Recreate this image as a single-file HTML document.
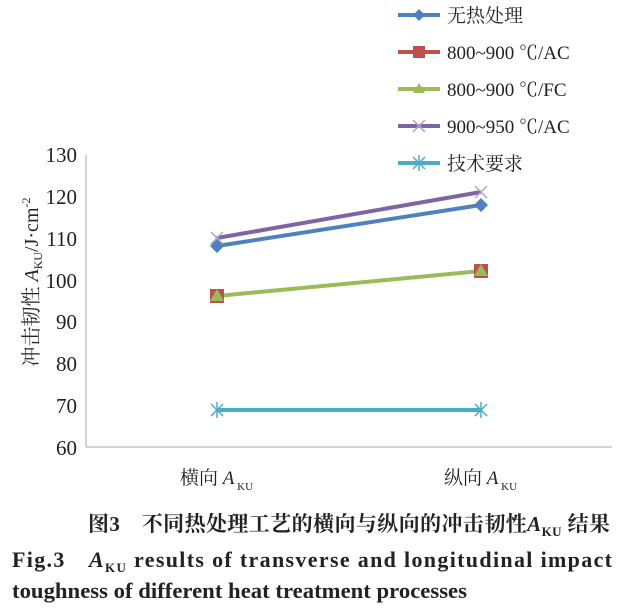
<!DOCTYPE html>
<html><head><meta charset="utf-8"><style>
body{margin:0;background:#fff;}
svg{display:block;}
.t{font-family:"Liberation Serif","Noto Serif CJK SC",serif;fill:#222;}
</style></head><body>
<svg width="621" height="612" viewBox="0 0 621 612">
<g class="t" font-size="21" text-anchor="end">
<text x="77" y="162">130</text><text x="77" y="204">120</text><text x="77" y="246">110</text>
<text x="77" y="288">100</text><text x="77" y="329">90</text><text x="77" y="371">80</text>
<text x="77" y="413">70</text><text x="77" y="455">60</text>
</g>
<line x1="86" y1="155" x2="86" y2="447" stroke="#aaa" stroke-width="1"/>
<line x1="86" y1="447" x2="612" y2="447" stroke="#aaa" stroke-width="1"/>
<g class="t" transform="translate(38,282) rotate(-90)" text-anchor="middle" font-size="20">
<text x="0" y="0">冲击韧性 <tspan font-style="italic">A</tspan><tspan font-size="12" dy="4">KU</tspan><tspan dy="-4">/J·cm</tspan><tspan font-size="12" dy="-8">-2</tspan></text>
</g>
<g stroke-width="4" fill="none">
<polyline points="217,410 481,410" stroke="#4bacc6"/>
<polyline points="217,296 481,271" stroke="#9bbb59"/>
<polyline points="217,238 481,192" stroke="#8064a2"/>
<polyline points="217,246 481,205" stroke="#4f81bd"/>
</g>
<g stroke="#4bacc6" stroke-width="1.5"><path d="M211,404l12,12M223,404l-12,12M217,402v16M475,404l12,12M487,404l-12,12M481,402v16"/></g>
<rect x="210" y="289" width="14" height="14" fill="#c0504d"/><rect x="474" y="264" width="14" height="14" fill="#c0504d"/>
<path d="M217,289l7,12h-14z M481,264l7,12h-14z" fill="#9bbb59"/>
<g stroke="#b3a2c7" stroke-width="1.5"><path d="M211,232l12,12M223,232l-12,12M475,186l12,12M487,186l-12,12"/></g>
<path d="M217,239l7,7-7,7-7-7z M481,198l7,7-7,7-7-7z" fill="#4f81bd"/>
<g stroke-width="4">
<line x1="398" y1="15" x2="440" y2="15" stroke="#4f81bd"/>
<line x1="398" y1="52" x2="440" y2="52" stroke="#c0504d"/>
<line x1="398" y1="89" x2="440" y2="89" stroke="#9bbb59"/>
<line x1="398" y1="126" x2="440" y2="126" stroke="#8064a2"/>
<line x1="398" y1="163" x2="440" y2="163" stroke="#4bacc6"/>
</g>
<path d="M419,9l6,6-6,6-6-6z" fill="#4f81bd"/>
<rect x="413" y="46" width="12" height="12" fill="#c0504d"/>
<path d="M419,83l6,10h-12z" fill="#9bbb59"/>
<path d="M413,120l12,12M425,120l-12,12" stroke="#b3a2c7" stroke-width="1.5"/>
<path d="M413,157l12,12M425,157l-12,12M419,155v16" stroke="#4bacc6" stroke-width="1.5"/>
<g class="t" font-size="19">
<text x="447" y="22">无热处理</text>
<text x="447" y="59">800~900 ℃/AC</text>
<text x="447" y="96">800~900 ℃/FC</text>
<text x="447" y="133">900~950 ℃/AC</text>
<text x="447" y="170">技术要求</text>
</g>
<g class="t" font-size="19">
<text x="180" y="484">横向 <tspan font-style="italic">A</tspan><tspan font-size="11" dy="6"> KU</tspan></text>
<text x="444" y="484">纵向 <tspan font-style="italic">A</tspan><tspan font-size="11" dy="6"> KU</tspan></text>
</g>
<g class="t" font-size="21" font-weight="bold">
<text x="88" y="531" textLength="522" lengthAdjust="spacing">图3　不同热处理工艺的横向与纵向的冲击韧性<tspan font-style="italic">A</tspan><tspan font-size="13" dy="5">KU</tspan><tspan dy="-5"> 结果</tspan></text>
</g>
<g class="t" font-size="22" font-weight="bold">
<text x="12" y="567" textLength="600" lengthAdjust="spacing">Fig.3　<tspan font-style="italic">A</tspan><tspan font-size="13" dy="5">KU</tspan><tspan dy="-5"> results of transverse and longitudinal impact</tspan></text>
<text x="12" y="598" textLength="455" lengthAdjust="spacingAndGlyphs">toughness of different heat treatment processes</text>
</g>
</svg>
</body></html>
